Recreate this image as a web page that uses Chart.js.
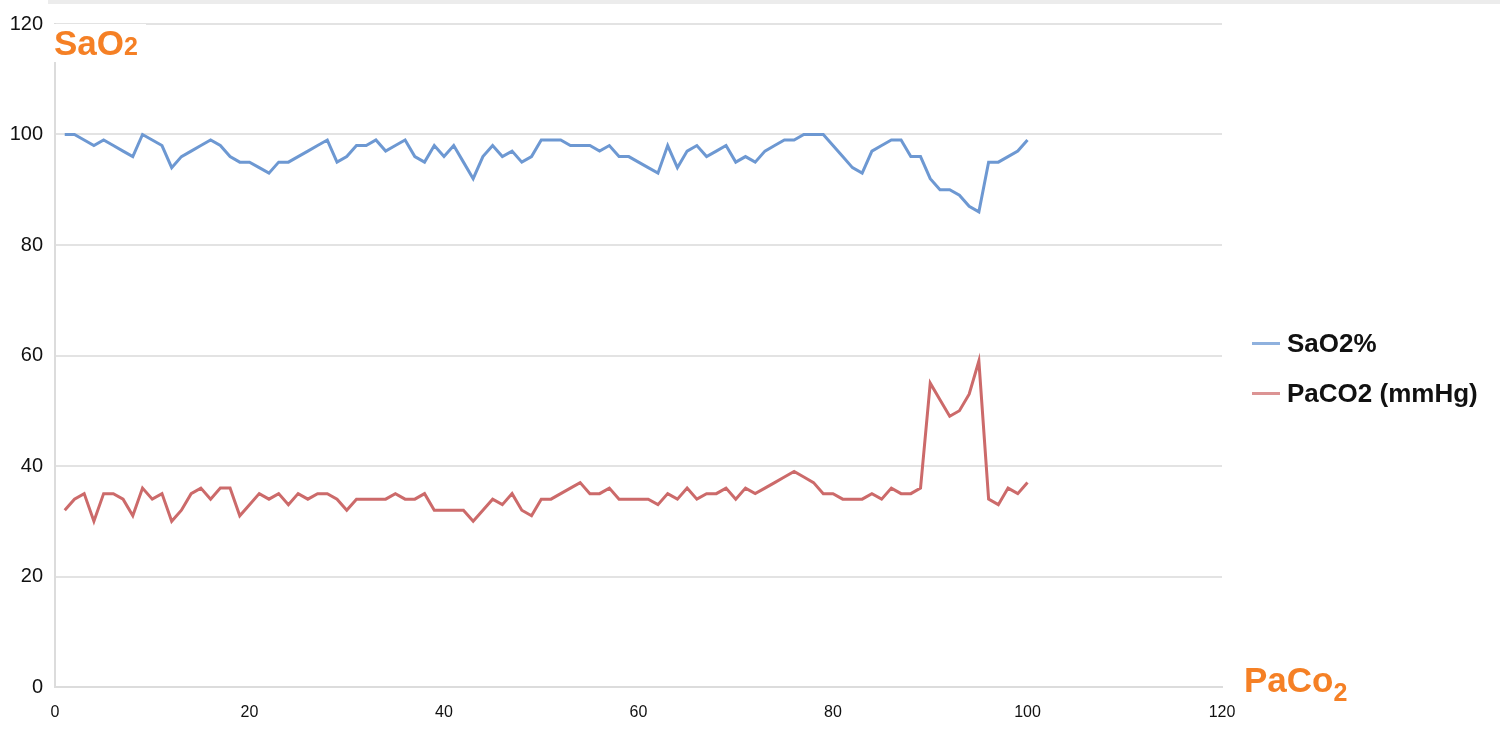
<!DOCTYPE html>
<html>
<head>
<meta charset="utf-8">
<script src="https://cdn.jsdelivr.net/npm/chart.js@4"></script>
<style>
  body { margin: 0; background: #fff; font-family: 'Liberation Sans', Arial, sans-serif; }
  #wrap { position: relative; width: 1500px; height: 737px; }
  #topbar { position: absolute; left: 48px; top: 0; width: 1452px; height: 4px; background: #ececec; }
  .axlabel { position: absolute; color: #f58025; font-weight: bold; font-size: 35px; background: #fff; line-height: 1; }
  #ylab { left: 52px; top: 24px; padding: 1px 8px 2px 2px; }
  #ylab sub { font-size: 25px; vertical-align: baseline; }
  #xlab { left: 1244px; top: 662px; background: transparent; }
  #xlab sub { font-size: 25px; vertical-align: -9px; }
  .leg { position: absolute; left: 1252px; font-weight: bold; font-size: 26px; color: #111; }
  .leg span { display: inline-block; width: 28px; height: 3px; margin-right: 7px; vertical-align: middle; position: relative; top: -2px; }
</style>
</head>
<body>
<div id="wrap">
  <div id="topbar"></div>
  <canvas id="line-chart"></canvas>
  <div class="axlabel" id="ylab">SaO<sub>2</sub></div>
  <div class="axlabel" id="xlab">PaCo<sub>2</sub></div>
  <div class="leg" style="top:328px"><span style="background:#8fb1de"></span>SaO2%</div>
  <div class="leg" style="top:378px"><span style="background:#dc9494"></span>PaCO2 (mmHg)</div>
</div>
<script>
// sample number
const samples = [1,2,3,4,5,6,7,8,9,10,11,12,13,14,15,16,17,18,19,20,
  21,22,23,24,25,26,27,28,29,30,31,32,33,34,35,36,37,38,39,40,
  41,42,43,44,45,46,47,48,49,50,51,52,53,54,55,56,57,58,59,60,
  61,62,63,64,65,66,67,68,69,70,71,72,73,74,75,76,77,78,79,80,
  81,82,83,84,85,86,87,88,89,90,91,92,93,94,95,96,97,98,99,100]

const sao2 = [100,100,99,98,99,98,97,96,100,99,
  98,94,96,97,98,99,98,96,95,95,
  94,93,95,95,96,97,98,99,95,96,
  98,98,99,97,98,99,96,95,98,96,
  98,95,92,96,98,96,97,95,96,99,
  99,99,98,98,98,97,98,96,96,95,
  94,93,98,94,97,98,96,97,98,95,
  96,95,97,98,99,99,100,100,100,98,
  96,94,93,97,98,99,99,96,96,92,
  90,90,89,87,86,95,95,96,97,99]

const paco2 = [32,34,35,30,35,35,34,31,36,34,
  35,30,32,35,36,34,36,36,31,33,
  35,34,35,33,35,34,35,35,34,32,
  34,34,34,34,35,34,34,35,32,32,
  32,32,30,32,34,33,35,32,31,34,
  34,35,36,37,35,35,36,34,34,34,
  34,33,35,34,36,34,35,35,36,34,
  36,35,36,37,38,39,38,37,35,35,
  34,34,34,35,34,36,35,35,36,55,
  52,49,50,53,59,34,33,36,35,37]

const seriesNames = ['SaO2%', 'PaCO2 (mmHg)']
const axisMax = 120
const axisStep = 20

var ctx = document.querySelector('#line-chart')

function pts(vals) {
  return samples.map(function (s, i) { return { x: s, y: vals[i] } })
}

new Chart(ctx, {
  type: 'line',
  data: {
    datasets: [{
      label: seriesNames[0],
      data: pts(sao2),
      borderColor: '#6d98d2',
      borderWidth: 3,
      pointRadius: 0,
      tension: 0
    }, {
      label: seriesNames[1],
      data: pts(paco2),
      borderColor: '#cc6a6a',
      borderWidth: 3,
      pointRadius: 0,
      tension: 0
    }]
  },
  options: {
    responsive: true,
    maintainAspectRatio: false,
    animation: false,
    layout: { padding: { top: 24, right: 278, left: 0, bottom: 0 } },
    plugins: { legend: { display: false }, tooltip: { enabled: false } },
    scales: {
      x: {
        type: 'linear',
        min: 0,
        max: axisMax,
        afterFit: function (s) { s.height = 50 },
        ticks: { stepSize: axisStep, padding: 16, color: '#111', font: { family: 'Liberation Sans', size: 16 } },
        grid: { display: false, drawTicks: false },
        border: { display: true, color: '#dcdcdc', width: 2 }
      },
      y: {
        min: 0,
        max: axisMax,
        afterFit: function (s) { s.width = 55 },
        ticks: { stepSize: axisStep, padding: 12, color: '#111', font: { family: 'Liberation Sans', size: 20 } },
        grid: { color: '#e3e3e3', lineWidth: 2, drawTicks: false },
        border: { display: true, color: '#dcdcdc', width: 2 }
      }
    }
  }
})
</script>
</body>
</html>
